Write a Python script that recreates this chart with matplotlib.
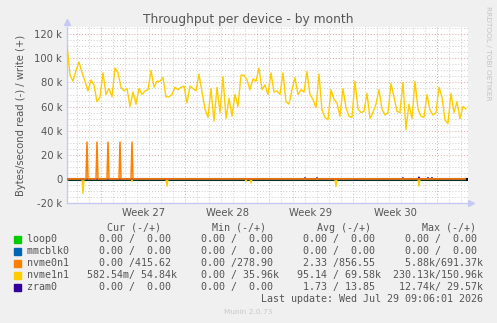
import numpy as np
import matplotlib
matplotlib.use("Agg")
import matplotlib.pyplot as plt
from matplotlib.ticker import FixedLocator, MultipleLocator

# time axis in days, 0 = Mon Jul 27 2026 00:00 (start of week 31)
t_start = -30.84
t_end = 2.58
t_last = 2.38

# nvme1n1 write, k bytes/s, one value every 6 hours from t_start
nvme1n1_write_k = [
    111, 86, 81, 90, 97, 88, 81, 73, 82, 78, 64, 68, 88, 70, 75, 68, 92, 88,
    76, 73, 75, 60, 72, 62, 75, 70, 73, 74, 90, 76, 81, 81, 84, 68, 68, 70,
    76, 74, 76, 77, 63, 77, 75, 73, 87, 72, 58, 51, 75, 48, 76, 55, 85, 50,
    67, 52, 70, 60, 86, 86, 82, 74, 83, 81, 92, 74, 78, 70, 88, 72, 73, 70,
    88, 64, 62, 74, 84, 70, 74, 72, 89, 70, 66, 59, 87, 57, 51, 49, 74, 66,
    63, 52, 75, 59, 52, 51, 81, 58, 55, 56, 71, 50, 55, 62, 74, 58, 53,
    55, 79, 68, 56, 55, 80, 41, 62, 50, 81, 58, 52, 51, 70, 57, 53, 55, 76,
    68, 49, 46, 71, 55, 64, 50, 60, 58,
]

# short events (day, value in bytes/s)
nvme0n1_write_days = [-29.17, -28.33, -27.42, -26.42, -25.42]
nvme0n1_write_vals = [30500, 30500, 30500, 30500, 30500]
nvme1n1_read_days = [-29.5, -25.42, -22.5, -15.92, -15.5, -8.42, -1.5]
nvme1n1_read_vals = [-12000, -2000, -6000, -2000, -3500, -6500, -6000]
zram0_days = [-11.0, -10.0, -6.75, -2.83, -1.5, -0.75, -0.42]
zram0_vals = [900, 900, -1000, 900, 1500, 1000, 1000]

weeks = ["Week 27", "Week 28", "Week 29", "Week 30"]
week_starts = [-28, -21, -14, -7, 0]

names = ["loop0", "mmcblk0", "nvme0n1", "nvme1n1", "zram0"]
colors = ["#00cc00", "#0066b3", "#ff8000", "#ffcc00", "#330099"]
cur_vals = ["  0.00 /  0.00 ", "  0.00 /  0.00 ", "  0.00 /415.62 ", "582.54m/ 54.84k", "  0.00 /  0.00 "]
min_vals = ["  0.00 /  0.00 ", "  0.00 /  0.00 ", "  0.00 /278.90 ", "  0.00 / 35.96k", "  0.00 /  0.00 "]
avg_vals = ["  0.00 /  0.00 ", "  0.00 /  0.00 ", "  2.33 /856.55 ", " 95.14 / 69.58k", "  1.73 / 13.85 "]
max_vals = ["  0.00 /  0.00 ", "  0.00 /  0.00 ", "  5.88k/691.37k", "230.13k/150.96k", " 12.74k/ 29.57k"]
headers = ["Cur (-/+)", "Min (-/+)", "Avg (-/+)", "Max (-/+)"]

W, H = 497, 323
txt = "#555555"
mono = "DejaVu Sans Mono"

# series construction
t_main = t_start + 0.25 * np.arange(len(nvme1n1_write_k))
y_main = np.array(nvme1n1_write_k) * 1000.0

t_fine = t_start + np.arange(int((t_last - t_start) * 12) + 1) / 12.0


def events(days, vals):
    y = np.zeros_like(t_fine)
    for d, v in zip(days, vals):
        y[np.argmin(np.abs(t_fine - d))] = v
    return y


fig = plt.figure(figsize=(W / 100, H / 100), dpi=100, facecolor="#f0f0f0")
ax = fig.add_axes([67 / W, 1 - 203 / H, (468 - 67) / W, (203 - 27) / H])
ax.set_facecolor("white")

ax.axhline(0, color="black", lw=2.2, zorder=2)
ax.plot(t_fine, np.zeros_like(t_fine), color=colors[0], lw=1, zorder=3)
ax.plot(t_fine, np.zeros_like(t_fine), color=colors[1], lw=1, zorder=3)
ax.plot(t_main, y_main, color=colors[3], lw=1.0, zorder=4)
ax.plot(t_fine, events(nvme1n1_read_days, nvme1n1_read_vals), color=colors[3], lw=1.0, zorder=4)
ax.plot(t_fine, events(zram0_days, zram0_vals), color=colors[4], lw=1.0, zorder=5)
ax.plot(t_fine, events(nvme0n1_write_days, nvme0n1_write_vals), color=colors[2], lw=1.1, zorder=6)

ax.set_xlim(t_start, t_end)
ax.set_ylim(-20000, 126000)

# grid
ax.xaxis.set_major_locator(FixedLocator(week_starts))
ax.xaxis.set_minor_locator(MultipleLocator(1))
ax.yaxis.set_major_locator(MultipleLocator(20000))
ax.yaxis.set_minor_locator(MultipleLocator(5000))
ax.grid(which="minor", color="#cccccc", ls=(0, (1, 2)), lw=0.7)
ax.grid(which="major", color="#e6a0a0", ls=(0, (1, 2)), lw=0.7)
ax.set_axisbelow(True)
ax.tick_params(which="both", length=0, labelsize=7.2, colors=txt)
ax.set_xticklabels([])
ax.set_yticks(np.arange(-20000, 120001, 20000))
ax.set_yticklabels(["-20 k", "0", "20 k", "40 k", "60 k", "80 k", "100 k", "120 k"])
for i, w in enumerate(weeks):
    ax.text((week_starts[i] + week_starts[i + 1]) / 2, -0.055, w, transform=ax.get_xaxis_transform(),
            ha="center", va="center", fontsize=7.2, color=txt)

for s in ["top", "right"]:
    ax.spines[s].set_visible(False)
for s in ["left", "bottom"]:
    ax.spines[s].set_color("#c8c8f4")
    ax.spines[s].set_linewidth(1.0)
ax.plot([0], [1.03], marker="^", ms=4, color="#c8c8f4", transform=ax.transAxes, clip_on=False)
ax.plot([1.008], [0], marker=">", ms=4, color="#c8c8f4", transform=ax.transAxes, clip_on=False)

ax.set_ylabel("Bytes/second read (-) / write (+)", fontsize=7.2, color=txt, labelpad=6)
fig.text(248 / W, 1 - 20 / H, "Throughput per device - by month", ha="center", va="center",
         fontsize=8.8, color=txt)
fig.text(488 / W, 1 - 6 / H, "RRDTOOL / TOBI OETIKER", rotation=270, ha="center", va="top",
         fontsize=5.3, color="#c4c4c4")

# legend table
for k, h in enumerate(headers):
    fig.text((107 + 105 * k) / W, 1 - 228 / H, h, ha="left", va="center",
             fontsize=7.2, family=mono, color=txt)
for r, name in enumerate(names):
    y = 1 - (239.3 + 12 * r) / H
    fig.patches.append(plt.Rectangle((14 / W, y - 3.2 / H), 6.5 / W, 6.5 / H,
                                     transform=fig.transFigure, color=colors[r]))
    row = f"{name:<10}{cur_vals[r]}  {min_vals[r]}  {avg_vals[r]}  {max_vals[r]}"
    fig.text(26.7 / W, y, row, ha="left", va="center", fontsize=7.2, family=mono, color=txt)
fig.text(483 / W, 1 - 299.3 / H, "Last update: Wed Jul 29 09:06:01 2026", ha="right", va="center",
         fontsize=7.2, family=mono, color=txt)
fig.text(248 / W, 1 - 312.5 / H, "Munin 2.0.73", ha="center", va="center", fontsize=5.3, color="#c8c8c8")

fig.savefig("out.png", dpi=100, facecolor=fig.get_facecolor())
